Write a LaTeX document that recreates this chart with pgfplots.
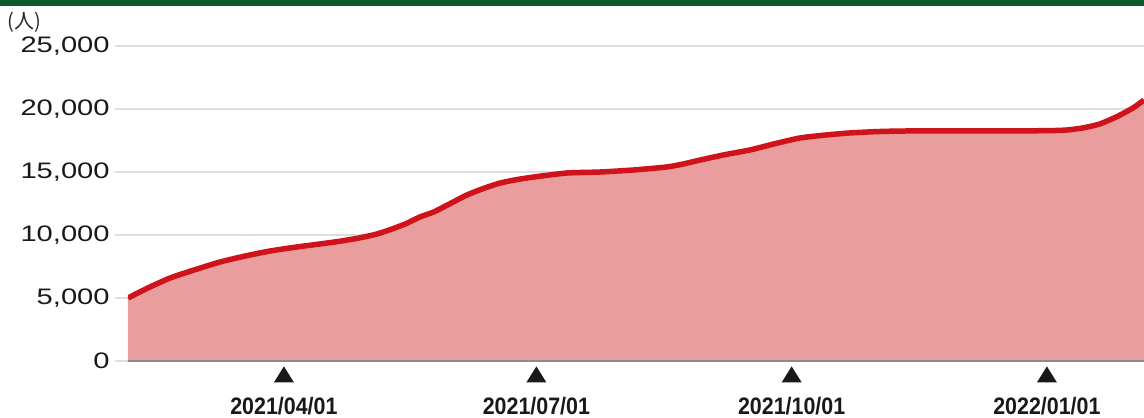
\documentclass[border=0pt]{standalone}
\usepackage{fontspec}
\setmainfont{Liberation Sans}
\newfontfamily\yfont[FakeStretch=1.3]{Liberation Sans}
\newfontfamily\dfont[FakeStretch=0.9]{Liberation Sans}
\newfontfamily\cjk{Noto Sans CJK JP}
\usepackage{pgfplots}
\pgfplotsset{compat=1.18}
\definecolor{areafill}{HTML}{E99D9D}
\definecolor{linered}{HTML}{D0121A}
\definecolor{gridgray}{HTML}{DEDEDE}
\definecolor{topgreen}{HTML}{0B5B2B}
\newcommand\tri{\tikz\fill[black!90] (0,0)--(10pt,0)--(5pt,8pt)--cycle;}
\pgfplotstableread{
day value
33.8 5000
41 5800
49 6590
58 7250
67 7860
76 8330
85 8730
94 9030
103 9290
110 9500
117 9760
123 10050
128 10400
134 10900
139 11430
144 11830
150 12500
156 13180
162 13700
168 14130
174 14400
180 14600
192 14920
204 15000
216 15160
228 15400
234 15640
240 15950
249 16380
258 16750
267 17250
276 17700
285 17930
294 18100
303 18200
312 18250
330 18270
348 18260
365 18280
372 18330
378 18500
384 18810
390 19370
396 20080
400 20710
}\datatable
\begin{document}
\begin{tikzpicture}[x=1pt,y=1pt]
\useasboundingbox (-64,-28) rectangle (508,180.5);
\fill[topgreen] (-64,177.5) rectangle (508,180.5);
\node[anchor=north west, font=\cjk\fontsize{10}{11}\selectfont, inner sep=0pt, text=black!85] at (-60.5,174.5) {(人)};
\begin{axis}[
  at={(0,0)}, anchor=south west,
  scale only axis, width=508pt, height=157.5pt,
  xmin=33.8, xmax=400, ymin=0, ymax=25000,
  axis line style={draw=none},
  ytick={0,5000,10000,15000,20000,25000},
  scaled y ticks=false,
  ymajorgrids,
  grid style={gridgray, line width=1pt},
  y tick style={gridgray, line width=1pt},
  major tick length=6.5pt,
  tick align=outside,
  xtick={90,181,273,365},
  xticklabels={{\tri\\[3pt]2021/04/01},{\tri\\[3pt]2021/07/01},{\tri\\[3pt]2021/10/01},{\tri\\[3pt]2022/01/01}},
  x tick style={draw=none},
  xticklabel style={align=center, anchor=north, inner sep=0pt, yshift=4pt, font=\dfont\bfseries\fontsize{11.9}{13}\selectfont, text=black!90},
  yticklabel style={font=\yfont\fontsize{11.2}{12}\selectfont, text=black!90, inner sep=0pt, xshift=-2.5pt,
    /pgf/number format/.cd, fixed, precision=0, 1000 sep={,}, assume math mode=true},
]
\addplot[fill=areafill, draw=none, smooth, tension=0.4] table[x=day, y=value] {\datatable} \closedcycle;
\addplot[linered, line width=2.75pt, smooth, tension=0.4] table[x=day, y=value] {\datatable};
\draw[black!45, line width=1pt] ([xshift=-6.5pt]axis cs:33.8,0) -- (axis cs:400,0);
\end{axis}
\end{tikzpicture}
\end{document}
